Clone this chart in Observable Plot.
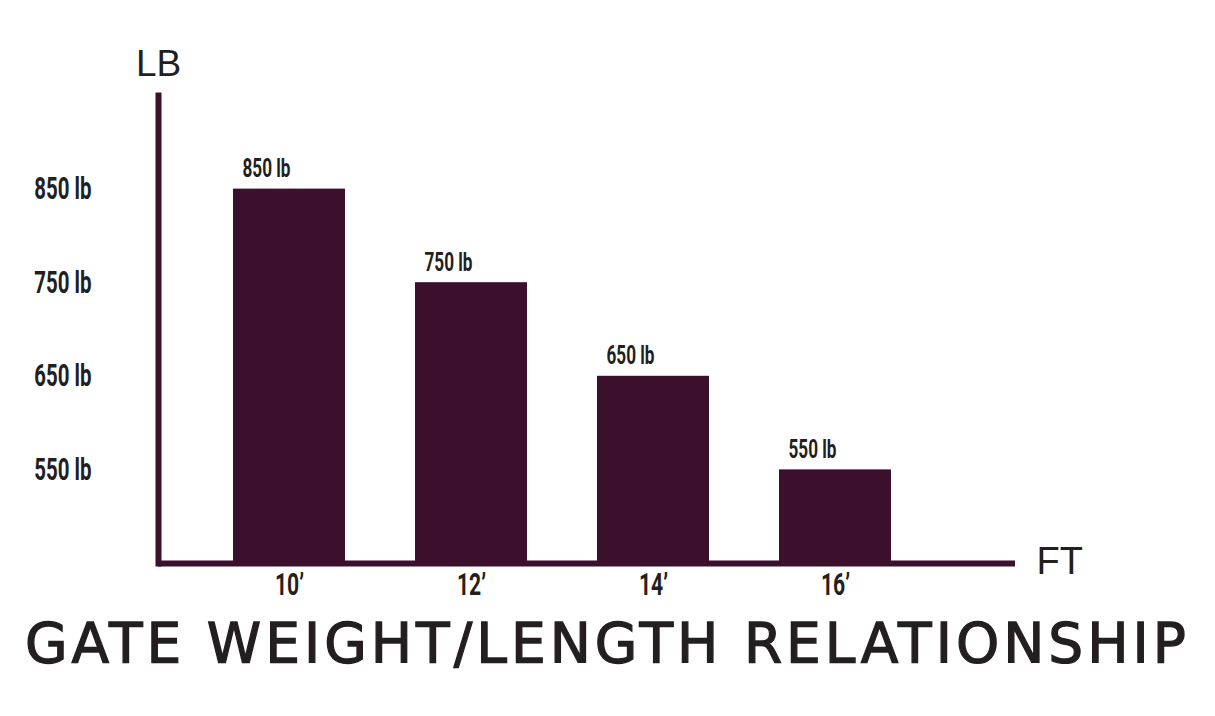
<!DOCTYPE html>
<html>
<head>
<meta charset="utf-8">
<script src="https://cdn.jsdelivr.net/npm/d3@7"></script>
<script src="https://cdn.jsdelivr.net/npm/@observablehq/plot@0.6"></script>
<style>
  html, body { margin: 0; padding: 0; background: #ffffff; }
  #chart { width: 1215px; height: 600px; }
  #title {
    width: 1215px;
    margin-top: 16px;
    text-align: center;
    font-family: "DejaVu Sans", sans-serif;
    font-size: 55px;
    line-height: 1;
    letter-spacing: 4px;
    color: #231f20;
    -webkit-text-stroke: 1.3px #231f20;
    white-space: nowrap;
  }
</style>
</head>
<body>
<div id="chart"></div>
<div id="title">GATE WEIGHT/LENGTH RELATIONSHIP</div>
<script>
// Data
const lengths = ["10’", "12’", "14’", "16’"];
const weights = [850, 750, 650, 550];
const yTicks = [550, 650, 750, 850];
const yLabel = "LB";
const xLabel = "FT";

const data = lengths.map((l, i) => ({length: l, weight: weights[i]}));

const barColor = "#3c0f2d";
const textColor = "#231f20";
const narrow = "Roboto, 'DejaVu Sans', sans-serif";

const chart = Plot.plot({
  width: 1215,
  height: 600,
  marginLeft: 158,
  marginRight: 200,
  marginTop: 95,
  marginBottom: 37,
  style: {background: "#ffffff", color: textColor, overflow: "visible"},
  x: {
    domain: lengths,
    range: [196.8, 926.8],
    paddingInner: 0.386,
    paddingOuter: 0.193,
    axis: null
  },
  y: {domain: [450, 950], axis: null},
  marks: [
    Plot.barY(data, {x: "length", y1: 450, y2: "weight", fill: barColor}),
    // bar value labels
    Plot.text(data, {
      x: "length", y: "weight",
      text: d => `${d.weight} lb`,
      textAnchor: "start", lineAnchor: "bottom",
      dx: -47, dy: -12,
      className: "narrow",
      fontFamily: narrow, fontWeight: "bold", fontSize: 26, fill: textColor
    }),
    // y tick labels
    Plot.axisY(yTicks, {
      tickSize: 0, tickPadding: 67,
      tickFormat: d => `${d} lb`,
      label: null,
      className: "narrow",
      fontFamily: narrow, fontWeight: "bold", fontSize: 31, fill: textColor
    }),
    // x tick labels
    Plot.text(lengths, {
      x: d => d, frameAnchor: "bottom",
      text: d => d, lineAnchor: "top", dy: 9,
      className: "narrow",
      fontFamily: narrow, fontWeight: "bold", fontSize: 32, fill: textColor
    }),
    // axis lines
    Plot.ruleY([450], {stroke: barColor, strokeWidth: 6}),
    Plot.frame({anchor: "left", stroke: barColor, strokeWidth: 6}),
    // axis names
    Plot.text([yLabel], {
      frameAnchor: "top-left", text: d => d,
      textAnchor: "middle", lineAnchor: "bottom", dy: -20,
      fontFamily: "'Liberation Sans', sans-serif", fontSize: 37, fill: textColor,
      letterSpacing: 3
    }),
    Plot.text([xLabel], {
      frameAnchor: "bottom-right", text: d => d,
      textAnchor: "start", lineAnchor: "middle", dx: 21, dy: -2,
      fontFamily: "'Liberation Sans', sans-serif", fontSize: 38, fill: textColor,
      letterSpacing: 2
    })
  ]
});

document.getElementById("chart").appendChild(chart);

// condense the bold labels horizontally (the reference uses a condensed face)
chart.querySelectorAll(".narrow text").forEach(t => {
  const w = t.getComputedTextLength();
  t.setAttribute("textLength", (w * 0.66).toFixed(1));
  t.setAttribute("lengthAdjust", "spacingAndGlyphs");
});
</script>
</body>
</html>
